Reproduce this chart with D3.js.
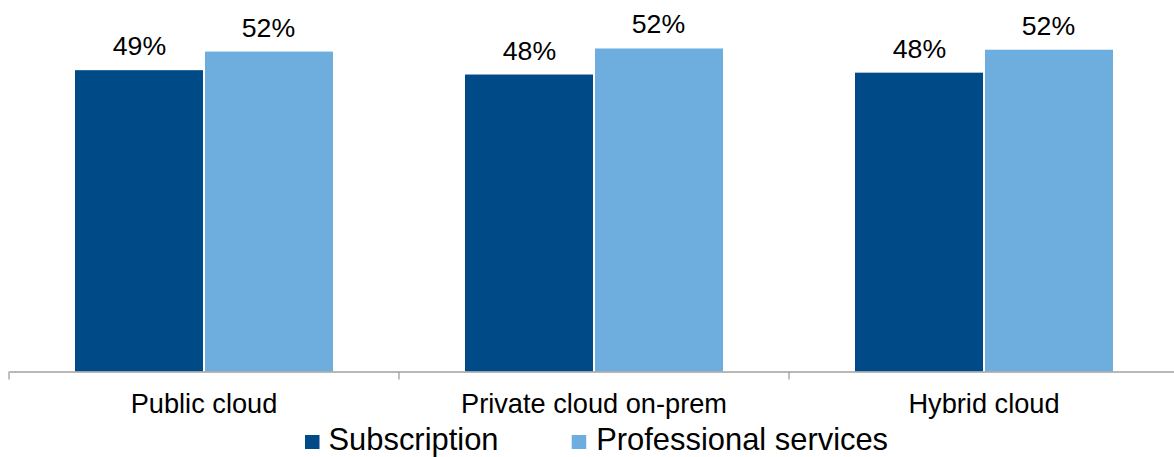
<!DOCTYPE html>
<html><head><meta charset="utf-8">
<script src="https://cdn.jsdelivr.net/npm/d3@7"></script>
<style>html,body{margin:0;padding:0;background:#fff;}svg{display:block;font-family:"Liberation Sans",Arial,sans-serif;}</style>
</head><body>
<svg id="c" width="1174" height="457"></svg>
<script>
const categories = ["Public cloud", "Private cloud on-prem", "Hybrid cloud"];
const seriesNames = ["Subscription", "Professional services"];
const subscription = [48.6, 47.9, 48.2];
const professional = [51.6, 52.1, 51.9];
const labels = [["49%", "52%"], ["48%", "52%"], ["48%", "52%"]];
const colors = ["#004B87", "#6DAEDF"];

const svg = d3.select("#c");
const baseY = 371.5;
const x = d3.scaleBand().domain(categories).range([9, 1179]).paddingInner(0).paddingOuter(0);
const y = d3.scaleLinear().domain([0, 55]).range([baseY, baseY - 55 * 6.2]);
const inner = d3.scaleBand().domain(seriesNames).range([66, 66 + 258]).paddingInner(0);

const rows = categories.map((c, i) => ({cat: c, vals: [subscription[i], professional[i]], labs: labels[i]}));

const g = svg.selectAll("g.cat").data(rows).join("g").attr("class", "cat")
  .attr("transform", d => `translate(${x(d.cat)},0)`);

g.selectAll("rect").data(d => d.vals.map((v, j) => ({v, j, s: seriesNames[j]})))
  .join("rect")
  .attr("x", d => inner(d.s) + (d.j === 1 ? 1 : 0))
  .attr("width", d => inner.bandwidth() - 1)
  .attr("y", d => y(d.v))
  .attr("height", d => baseY - y(d.v))
  .attr("fill", d => colors[d.j]);

g.selectAll("text.val").data(d => d.vals.map((v, j) => ({v, j, s: seriesNames[j], t: d.labs[j]})))
  .join("text").attr("class", "val")
  .attr("x", d => inner(d.s) + inner.bandwidth() / 2)
  .attr("y", d => y(d.v) - 15)
  .attr("text-anchor", "middle")
  .attr("font-size", 26.7)
  .attr("fill", "#000")
  .text(d => d.t);

// axis
const axis = svg.append("g").attr("transform", `translate(0,${baseY})`)
  .call(d3.axisBottom(x).tickSize(0).tickFormat(""));
axis.select(".domain").attr("stroke", "#a0a0a0").attr("stroke-width", 1.3);
const tickPos = [9, ...categories.map(c => x(c) + x.bandwidth())];
svg.append("g").selectAll("line").data(tickPos).join("line")
  .attr("x1", d => d).attr("x2", d => d)
  .attr("y1", baseY).attr("y2", baseY + 8)
  .attr("stroke", "#a0a0a0").attr("stroke-width", 1.3);

svg.append("g").selectAll("text").data(categories).join("text")
  .attr("x", d => x(d) + x.bandwidth() / 2)
  .attr("y", 412.7)
  .attr("text-anchor", "middle")
  .attr("font-size", 27.2)
  .attr("fill", "#000")
  .text(d => d);

// legend
const legendX = [305, 571.7];
const lg = svg.append("g").selectAll("g").data(seriesNames).join("g")
  .attr("transform", (d, i) => `translate(${legendX[i]},0)`);
lg.append("rect").attr("x", 0).attr("y", 435).attr("width", 14.5).attr("height", 14)
  .attr("fill", (d, i) => colors[i]);
lg.append("text").attr("x", (d, i) => i === 0 ? 23.5 : 24.5).attr("y", 450)
  .attr("font-size", 30.9).attr("fill", "#000").text(d => d);
</script>
</body></html>
